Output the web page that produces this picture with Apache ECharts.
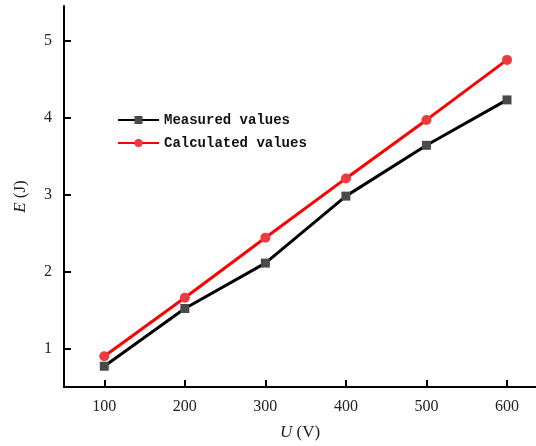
<!DOCTYPE html>
<html>
<head>
<meta charset="utf-8">
<script src="https://cdn.jsdelivr.net/npm/echarts@6/dist/echarts.min.js"></script>
<style>
  html, body { margin: 0; padding: 0; background: #fff; }
  #main { width: 536px; height: 446px; }
</style>
</head>
<body>
<div id="main"></div>
<script>
// data
var voltage = [100, 200, 300, 400, 500, 600];
var measured = [0.77, 1.52, 2.11, 2.98, 3.64, 4.23];
var calculated = [0.90, 1.66, 2.44, 3.21, 3.97, 4.75];
var energyTicks = [1, 2, 3, 4, 5];

var chart = echarts.init(document.getElementById('main'));

function pairs(xs, ys) {
  return xs.map(function (x, i) { return [x, ys[i]]; });
}

var serif = 'Liberation Serif';

var option = {
  animation: false,
  backgroundColor: '#fff',
  grid: {
    left: 64,
    right: 0,
    top: 6,
    bottom: 58
  },
  legend: {
    left: 112,
    top: 108,
    orient: 'vertical',
    itemWidth: 41,
    itemHeight: 10,
    itemGap: 9,
    textStyle: {
      fontFamily: 'Liberation Mono',
      fontSize: 14,
      fontWeight: 'bold',
      color: '#111'
    },
    data: ['Measured values', 'Calculated values']
  },
  xAxis: {
    type: 'value',
    min: 50,
    max: 636,
    name: '{i|U} (V)',
    nameLocation: 'middle',
    nameGap: 37,
    nameTextStyle: {
      fontFamily: serif,
      fontSize: 17,
      color: '#222',
      rich: { i: { fontFamily: serif, fontStyle: 'italic', fontSize: 17, color: '#222' } }
    },
    axisLine: { lineStyle: { color: '#000', width: 2 } },
    axisTick: { inside: true, length: 7, lineStyle: { width: 2 }, customValues: voltage },
    axisLabel: {
      fontFamily: serif,
      fontSize: 16,
      color: '#222',
      margin: 12,
      customValues: voltage
    },
    splitLine: { show: false }
  },
  yAxis: {
    type: 'value',
    min: 0.5,
    max: 5.45,
    name: '{i|E} (J)',
    nameLocation: 'middle',
    nameGap: 35,
    nameRotate: 90,
    nameTextStyle: {
      fontFamily: serif,
      fontSize: 17,
      color: '#222',
      rich: { i: { fontFamily: serif, fontStyle: 'italic', fontSize: 17, color: '#222' } }
    },
    axisLine: { show: true, lineStyle: { color: '#000', width: 2 } },
    axisTick: { show: true, inside: true, length: 7, lineStyle: { width: 2 }, customValues: energyTicks },
    axisLabel: {
      fontFamily: serif,
      fontSize: 16,
      color: '#222',
      margin: 12,
      customValues: energyTicks
    },
    splitLine: { show: false }
  },
  series: [
    {
      name: 'Measured values',
      type: 'line',
      data: pairs(voltage, measured),
      symbol: 'rect',
      symbolSize: 9,
      lineStyle: { color: '#000', width: 3 },
      itemStyle: { color: '#4a4a4a' },
      z: 2
    },
    {
      name: 'Calculated values',
      type: 'line',
      data: pairs(voltage, calculated),
      symbol: 'circle',
      symbolSize: 10,
      lineStyle: { color: '#ff0000', width: 3 },
      itemStyle: { color: '#ec3b3f' },
      z: 3
    }
  ]
};

chart.setOption(option);
</script>
</body>
</html>
